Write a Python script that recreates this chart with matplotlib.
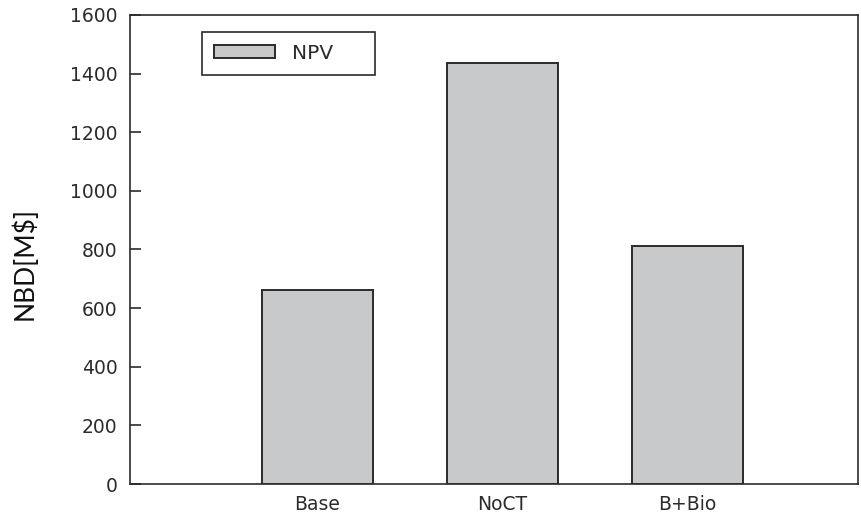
import matplotlib
matplotlib.use("Agg")
import matplotlib.pyplot as plt

# data
categories = ["Base", "NoCT", "B+Bio"]
npv_values = [662, 1435, 812]
y_ticks = [0, 200, 400, 600, 800, 1000, 1200, 1400, 1600]

BAR_FILL = "#c8c9cb"
INK = "#2b2b2b"

plt.rcParams["font.family"] = ["DejaVu Sans"]

fig = plt.figure(figsize=(8.61, 5.18), dpi=100)
ax = fig.add_axes([130 / 861, 1 - 484 / 518, 728 / 861, 469 / 518])

positions = [1, 2, 3]
ax.bar(positions, npv_values, width=0.6, color=BAR_FILL, edgecolor=INK,
       linewidth=1.4, label="NPV", zorder=3)

ax.set_xlim(-0.011, 3.924)
ax.set_ylim(0, 1600)
ax.set_xticks(positions)
ax.set_xticklabels(categories, fontsize=13.5, color=INK)
ax.set_yticks(y_ticks)
ax.set_yticklabels([str(t) for t in y_ticks], fontsize=13.5, color=INK)
ax.tick_params(axis="y", direction="in", length=8, width=1.2, color=INK, pad=9)
ax.tick_params(axis="x", length=0, pad=8)
for spine in ax.spines.values():
    spine.set_color(INK)
    spine.set_linewidth(1.2)

ax.set_ylabel("NBD[M$]", fontsize=19, family=["Lato", "DejaVu Sans"],
              color="#111111")
ax.yaxis.set_label_coords(-0.127, 0.471)

leg = ax.legend(loc="upper left", bbox_to_anchor=(0.099, 0.0, 0.238, 0.964),
                mode="expand", fontsize=14.5,
                fancybox=False, framealpha=1, edgecolor=INK,
                handlelength=3.0, handleheight=0.62, borderpad=0.6,
                handletextpad=0.85, borderaxespad=0)
leg.get_frame().set_linewidth(1.2)
for t in leg.get_texts():
    t.set_color(INK)

fig.savefig("out.png", dpi=100)
